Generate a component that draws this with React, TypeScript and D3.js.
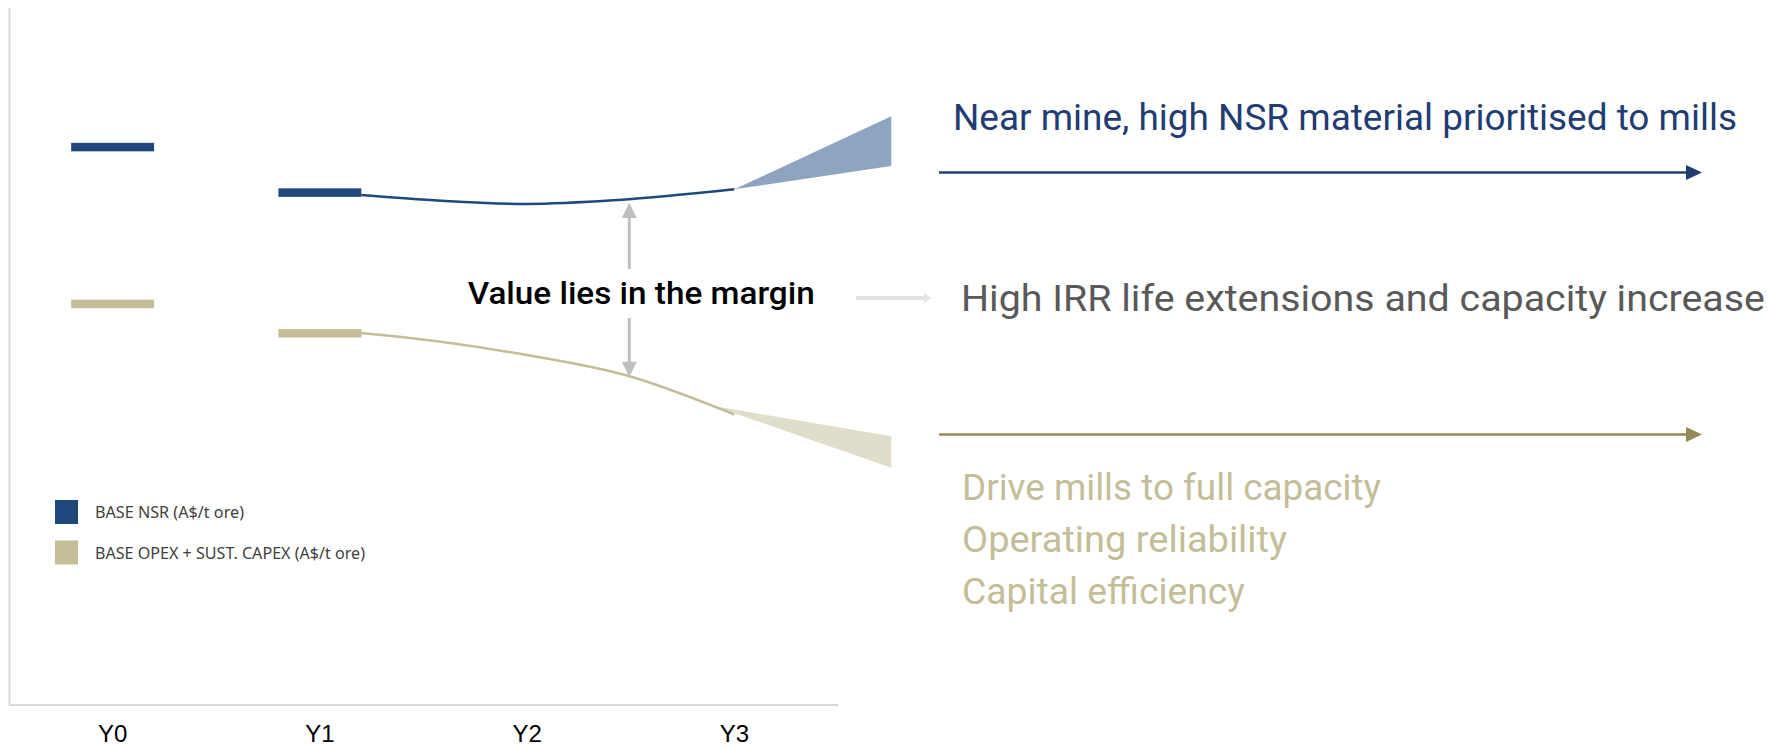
import React from "react";
import * as d3 from "d3";

// ---------- data ----------
const categories = ["Y0", "Y1", "Y2", "Y3"];
const nsrBase = [79.7, 73.2]; // BASE NSR at Y0, Y1
const costBase = [57.3, 53.1]; // BASE OPEX + SUST. CAPEX at Y0, Y1
const nsrPath: [number, number][] = [
  [1.2, 72.86],
  [1.585, 72.04],
  [2.0, 71.57],
  [2.44, 72.14],
  [3.0, 73.67],
];
const costPath: [number, number][] = [
  [1.15, 53.3],
  [1.585, 51.9],
  [1.95, 50.24],
  [2.49, 47.0],
  [3.0, 41.5],
];
const nsrUpside: [number, number][] = [
  [3.0, 73.67],
  [3.757, 84.1],
  [3.757, 77.0],
];
const costDownside: [number, number][] = [
  [2.9, 42.7],
  [3.757, 38.4],
  [3.757, 33.9],
];
const legendLabels = ["BASE NSR (A$/t ore)", "BASE OPEX + SUST. CAPEX (A$/t ore)"];
const marginLabel = "Value lies in the margin";
const nsrLever = "Near mine, high NSR material prioritised to mills";
const growthLever = "High IRR life extensions and capacity increase";
const costLevers = ["Drive mills to full capacity", "Operating reliability", "Capital efficiency"];

// ---------- styles ----------
const NAVY = "#1f497d";
const TAN = "#c4bd97";
const NAVY_WEDGE = "#8ea5c1";
const TAN_WEDGE = "#e0ddca";
const NAVY_TEXT = "#1f3c73";
const OLIVE = "#948a54";
const AXIS = "#d9d9d9";
const GREY_ARROW = "#bfbfbf";

export default function App() {
  const W = 1771;
  const H = 749;
  const x = d3.scaleLinear().domain([-0.5, 3.5]).range([9, 838]);
  const y = d3.scaleLinear().domain([0, 100]).range([705, 5]);
  const line = d3
    .line<[number, number]>()
    .x((d) => x(d[0]))
    .y((d) => y(d[1]))
    .curve(d3.curveMonotoneX);
  const poly = (pts: [number, number][]) =>
    pts.map((p) => `${x(p[0])},${y(p[1])}`).join(" ");
  const barHalf = 0.2;
  const barH = 8.5;
  const mainFont = "Roboto, 'Noto Sans', sans-serif";

  return (
    <div style={{ position: "absolute", left: 0, top: 0 }}>
      <svg width={W} height={H} style={{ display: "block", background: "#fff" }}>
        {/* axes */}
        <line x1={9.5} x2={9.5} y1={8} y2={706} stroke={AXIS} strokeWidth={2} />
        <line x1={9} x2={838} y1={705} y2={705} stroke={AXIS} strokeWidth={2} />
        {categories.map((c, i) => (
          <text
            key={c}
            x={x(i)}
            y={742}
            textAnchor="middle"
            fontFamily="'Liberation Sans', Arial, sans-serif"
            fontSize={24}
            fill="#000"
          >
            {c}
          </text>
        ))}

        {/* wedges */}
        <polygon points={poly(nsrUpside)} fill={NAVY_WEDGE} />
        <polygon points={poly(costDownside)} fill={TAN_WEDGE} />

        {/* lines */}
        <path d={line(nsrPath) || ""} fill="none" stroke={NAVY} strokeWidth={2.5} />
        <path d={line(costPath) || ""} fill="none" stroke={TAN} strokeWidth={2.5} />

        {/* base bars */}
        {nsrBase.map((v, i) => (
          <rect
            key={"n" + i}
            x={x(i - barHalf)}
            width={x(i + barHalf) - x(i - barHalf)}
            y={y(v) - barH / 2}
            height={barH}
            fill={NAVY}
          />
        ))}
        {costBase.map((v, i) => (
          <rect
            key={"c" + i}
            x={x(i - barHalf)}
            width={x(i + barHalf) - x(i - barHalf)}
            y={y(v) - barH / 2}
            height={barH}
            fill={TAN}
          />
        ))}

        {/* legend */}
        {legendLabels.map((l, i) => (
          <g key={l} transform={`translate(55,${500 + i * 40.5})`}>
            <rect width={23} height={24} fill={i === 0 ? NAVY : TAN} />
            <text
              x={40}
              y={18.3}
              fontFamily="'Noto Sans', 'Open Sans', sans-serif"
              fontSize={16}
              fill="#404040"
              textLength={i === 0 ? 149 : 270}
              lengthAdjust="spacingAndGlyphs"
            >
              {l}
            </text>
          </g>
        ))}

        {/* margin arrows */}
        <line x1={629.3} x2={629.3} y1={269} y2={216} stroke={GREY_ARROW} strokeWidth={3} />
        <polygon points="621.8,218 629.3,202.7 636.8,218" fill={GREY_ARROW} />
        <line x1={629.3} x2={629.3} y1={318} y2={363} stroke={GREY_ARROW} strokeWidth={3} />
        <polygon points="621.8,361.7 629.3,377 636.8,361.7" fill={GREY_ARROW} />
        <text
          x={467.7}
          y={304}
          fontFamily={mainFont}
          fontWeight={500}
          fontSize={31}
          fill="#000"
          textLength={347}
          lengthAdjust="spacingAndGlyphs"
        >
          {marginLabel}
        </text>

        {/* light grey arrow */}
        <line x1={856} x2={925} y1={298} y2={298} stroke="#e3e3e3" strokeWidth={4} />
        <polygon points="924,293 931,298 924,303" fill="#e3e3e3" />

        {/* right annotations */}
        <text
          x={953}
          y={129.5}
          fontFamily={mainFont}
          fontSize={36}
          fill={NAVY_TEXT}
          textLength={784}
          lengthAdjust="spacingAndGlyphs"
        >
          {nsrLever}
        </text>
        <line x1={939} x2={1688} y1={172.5} y2={172.5} stroke={NAVY_TEXT} strokeWidth={2.5} />
        <polygon points="1686,165 1702,172.5 1686,180" fill={NAVY_TEXT} />

        <text
          x={961}
          y={310.5}
          fontFamily={mainFont}
          fontSize={36}
          fill="#595959"
          textLength={804}
          lengthAdjust="spacingAndGlyphs"
        >
          {growthLever}
        </text>

        <line x1={939} x2={1688} y1={434.5} y2={434.5} stroke={OLIVE} strokeWidth={2.5} />
        <polygon points="1686,427 1702,434.5 1686,442" fill={OLIVE} />

        {costLevers.map((t, i) => (
          <text
            key={t}
            x={962}
            y={500 + i * 52}
            fontFamily={mainFont}
            fontSize={36}
            fill={TAN}
            textLength={[419, 325, 283][i]}
            lengthAdjust="spacingAndGlyphs"
          >
            {t}
          </text>
        ))}
      </svg>
    </div>
  );
}
